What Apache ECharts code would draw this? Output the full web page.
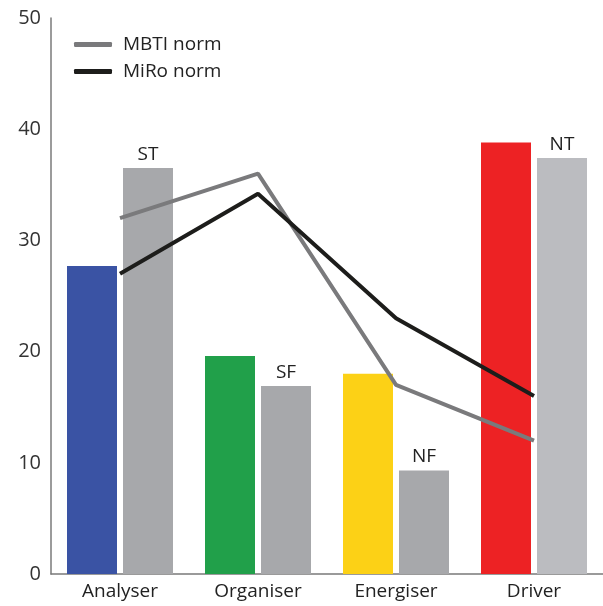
<!DOCTYPE html>
<html>
<head>
<meta charset="utf-8">
<style>
  html, body { margin: 0; padding: 0; background: #fff; }
  #chart { width: 603px; height: 606px; }
</style>
<script src="https://cdn.jsdelivr.net/npm/echarts@6/dist/echarts.min.js"></script>
</head>
<body>
<div id="chart"></div>
<script>
// Profile categories along the x axis
const categories = ['Analyser', 'Organiser', 'Energiser', 'Driver'];
// MiRo profile percentages (coloured bars)
const miroProfile = [27.7, 19.6, 18.0, 38.8];
// MBTI profile percentages (grey bars)
const mbtiProfile = [36.5, 16.9, 9.3, 37.4];
// MBTI type pair shown over each grey bar
const typeCodes = ['ST', 'SF', 'NF', 'NT'];
// Norm lines
const mbtiNorm = [32, 36, 17, 12];
const miroNorm = [27, 34.2, 23, 16];
// Value axis ticks
const yTicks = [0, 10, 20, 30, 40, 50];

const miroColors = ['#3a53a4', '#21a04a', '#fcd116', '#ed2224'];
const mbtiColors = ['#a7a8ab', '#a7a8ab', '#a7a8ab', '#bbbcc0'];
const fontFamily = '"Open Sans", "Noto Sans", sans-serif';

const chart = echarts.init(document.getElementById('chart'));
chart.setOption({
  animation: false,
  textStyle: { fontFamily },
  grid: { left: 51, right: -1, top: 18, bottom: 32, containLabel: false },
  legend: {
    data: ['MBTI norm', 'MiRo norm'],
    orient: 'vertical',
    left: 69,
    top: 30,
    itemWidth: 38,
    itemHeight: 5,
    itemGap: 8,
    icon: 'roundRect',
    textStyle: { fontSize: 19, color: '#222', fontFamily, padding: [0, 0, 0, 6] }
  },
  xAxis: {
    type: 'category',
    data: categories,
    axisLine: { lineStyle: { color: '#7a7a7a', width: 1.5 } },
    axisTick: { show: false },
    axisLabel: { fontSize: 19, color: '#222', margin: 8, fontFamily }
  },
  yAxis: {
    type: 'value',
    min: yTicks[0],
    max: yTicks[yTicks.length - 1],
    interval: 10,
    axisLine: { show: true, lineStyle: { color: '#7a7a7a', width: 1.5 } },
    axisTick: { show: false },
    splitLine: { show: false },
    axisLabel: { fontSize: 20, color: '#333', margin: 10, fontFamily }
  },
  series: [
    {
      name: 'MiRo profile',
      type: 'bar',
      barWidth: 50,
      barGap: '12%',
      data: miroProfile.map((v, i) => ({ value: v, itemStyle: { color: miroColors[i] } }))
    },
    {
      name: 'MBTI profile',
      type: 'bar',
      barWidth: 50,
      data: mbtiProfile.map((v, i) => ({ value: v, itemStyle: { color: mbtiColors[i] } })),
      label: {
        show: true,
        position: 'top',
        distance: 4,
        fontSize: 19,
        color: '#222',
        fontFamily,
        formatter: p => typeCodes[p.dataIndex]
      }
    },
    {
      name: 'MBTI norm',
      type: 'line',
      data: mbtiNorm,
      symbol: 'none',
      z: 5,
      color: '#7a7a7c',
      lineStyle: { color: '#7a7a7c', width: 4 }
    },
    {
      name: 'MiRo norm',
      type: 'line',
      data: miroNorm,
      symbol: 'none',
      z: 6,
      color: '#1d1d1b',
      lineStyle: { color: '#1d1d1b', width: 4 }
    }
  ]
});
</script>
</body>
</html>
